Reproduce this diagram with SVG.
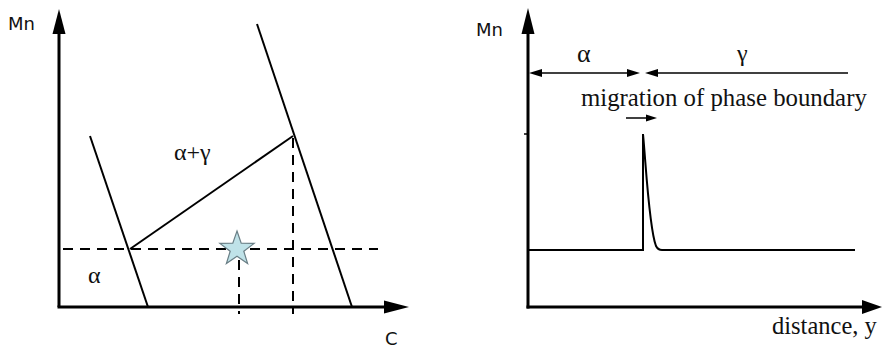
<svg xmlns="http://www.w3.org/2000/svg" width="882" height="348" viewBox="0 0 882 348">
<style>
.axis{stroke:#000;stroke-width:3;fill:none}
.ln{stroke:#000;stroke-width:2;fill:none}
.dash{stroke:#000;stroke-width:2;fill:none;stroke-dasharray:10 7}
.thin{stroke:#000;stroke-width:1.5;fill:none}
.sans{font-family:"DejaVu Sans",sans-serif;font-size:18px;fill:#111}
.serif{font-family:"Liberation Serif","Times New Roman",serif;font-size:24px;fill:#111}
.head{fill:#000}
</style>
<rect width="882" height="348" fill="#fff"/>
<g id="left-panel">
  <g id="left-axes">
    <line class="axis" x1="59" y1="307" x2="59" y2="30"/>
    <polygon class="head" points="59,9 52.5,34 65.5,34"/>
    <line class="axis" x1="57.5" y1="307" x2="386" y2="307"/>
    <polygon class="head" points="409,307 384,300.5 384,313.5"/>
    <text class="sans" x="8" y="30">Mn</text>
    <text class="sans" x="385" y="345">C</text>
  </g>
  <g id="phase-boundaries">
    <line class="ln" x1="90" y1="136" x2="148" y2="307"/>
    <line class="ln" x1="257" y1="24" x2="352" y2="307"/>
    <line class="ln" x1="130" y1="249" x2="293" y2="136"/>
  </g>
  <g id="dashed-guides">
    <line class="dash" x1="63" y1="249" x2="378" y2="249"/>
    <line class="dash" x1="293" y1="138" x2="293" y2="314"/>
    <line class="dash" x1="239" y1="260" x2="239" y2="314"/>
  </g>
  <g id="star">
    <polygon points="237,231 241.2,243.2 254.1,243.4 243.8,251.2 247.6,263.6 237,256.2 226.4,263.6 230.2,251.2 219.9,243.4 232.8,243.2" fill="#bfe2e8" stroke="#6a7f86" stroke-width="1.2"/>
  </g>
  <text class="serif" x="174" y="160">α+γ</text>
  <text class="serif" x="88" y="283">α</text>
</g>
<g id="right-panel">
  <g id="right-axes">
    <line class="axis" x1="528" y1="308.5" x2="528" y2="30"/>
    <polygon class="head" points="528,8 521.5,34 534.5,34"/>
    <line class="axis" x1="526.5" y1="307" x2="864" y2="307"/>
    <polygon class="head" points="882,307 862,300 862,314"/>
    <line class="thin" x1="524" y1="134" x2="528" y2="134"/>
    <text class="sans" x="476" y="36">Mn</text>
    <text class="serif" x="772" y="334" style="font-size:24.5px">distance, y</text>
  </g>
  <g id="connectors">
    <line class="thin" x1="535" y1="73" x2="632" y2="73"/>
    <polygon class="head" points="529,73 542,69 542,77"/>
    <polygon class="head" points="640,73 627,69 627,77"/>
    <line class="thin" x1="652" y1="73" x2="848" y2="73"/>
    <polygon class="head" points="645,73 658,69 658,77"/>
    <line class="thin" x1="626" y1="118" x2="650" y2="118"/>
    <polygon class="head" points="657,118 646,114.5 646,121.5"/>
  </g>
  <text class="serif" x="577" y="62" style="font-size:26px">α</text>
  <text class="serif" x="737" y="61">γ</text>
  <text class="serif" x="581" y="106" style="font-size:24.8px">migration of phase boundary</text>
  <g id="profile">
    <path class="ln" d="M528,250 L643,250 L643,134 C646,165 649,228 656,246 Q658,250 662,250 L855,250"/>
  </g>
</g>
</svg>
